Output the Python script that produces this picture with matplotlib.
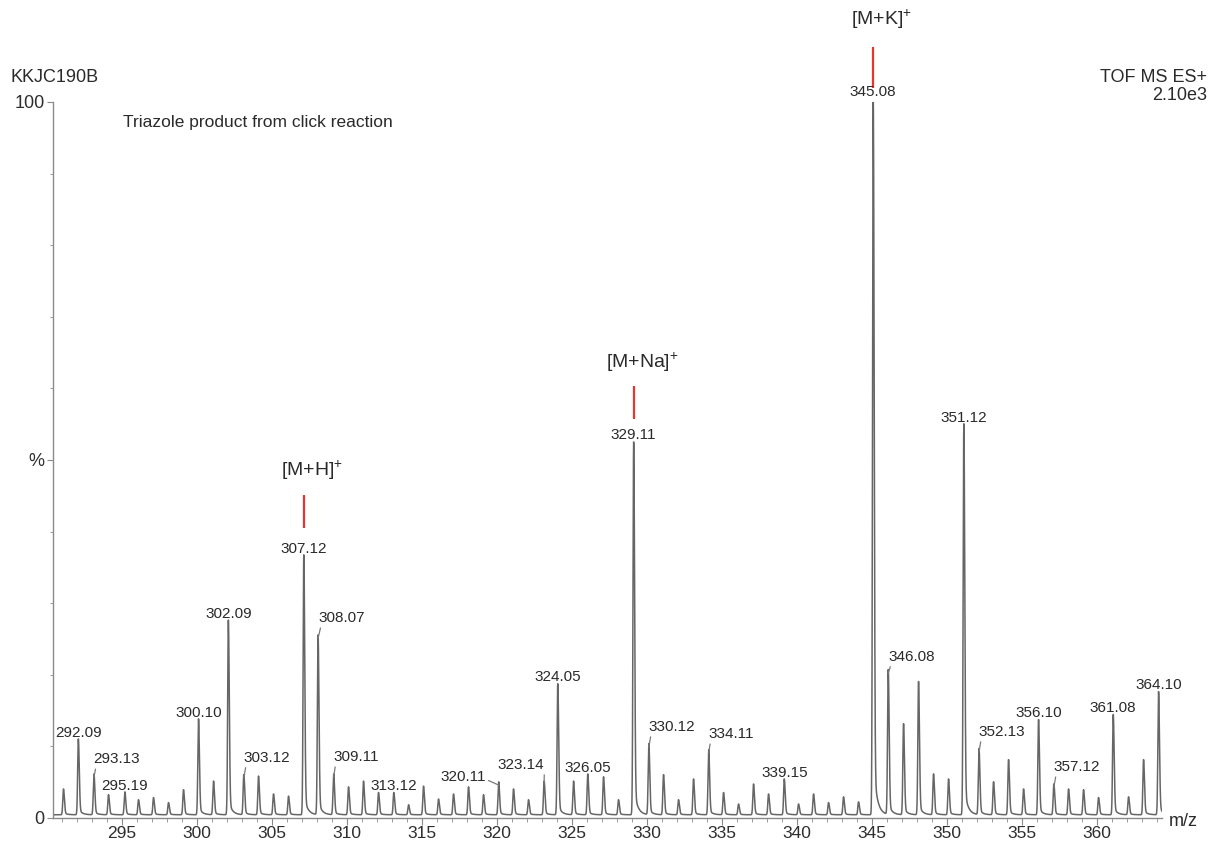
import numpy as np
import matplotlib
matplotlib.use("Agg")
import matplotlib.pyplot as plt

plt.rcParams['font.family'] = ['Liberation Sans', 'DejaVu Sans']
plt.rcParams['mathtext.fontset'] = 'custom'
plt.rcParams['mathtext.rm'] = 'Liberation Sans'
plt.rcParams['mathtext.default'] = 'regular'

# Centroid list of the spectrum: m/z and relative intensity (%)
peak_mz = [291.1, 292.09, 293.13, 294.1, 295.19, 296.1, 297.1, 298.1, 299.1, 300.10,
           301.1, 302.09, 303.12, 304.1, 305.1, 306.1, 307.12, 308.07, 309.11, 310.1,
           311.1, 312.1, 313.12, 314.1, 315.1, 316.1, 317.1, 318.1, 319.1, 320.11,
           321.1, 322.1, 323.14, 324.05, 325.1, 326.05, 327.1, 328.1, 329.11, 330.12,
           331.1, 332.1, 333.1, 334.11, 335.1, 336.1, 337.1, 338.1, 339.15, 340.1,
           341.1, 342.1, 343.1, 344.1, 345.08, 346.08, 347.1, 348.1, 349.1, 350.1,
           351.12, 352.13, 353.1, 354.1, 355.1, 356.10, 357.12, 358.1, 359.1, 360.1,
           361.08, 362.1, 363.1, 364.10]
peak_int = [3.6, 10.6, 5.7, 2.8, 3.2, 2.1, 2.4, 1.7, 3.5, 13.4,
            4.7, 27.2, 5.6, 5.4, 2.9, 2.6, 36.3, 25.1, 5.7, 3.9,
            4.7, 3.1, 3.1, 1.4, 4.0, 2.2, 2.9, 3.9, 2.8, 4.6,
            3.6, 2.1, 4.7, 18.3, 4.7, 5.7, 5.3, 2.1, 52.1, 9.9,
            5.6, 2.1, 5.0, 9.1, 3.1, 1.5, 4.3, 2.9, 5.0, 1.5,
            2.9, 1.7, 2.5, 1.8, 100.0, 20.2, 12.7, 18.6, 5.7, 5.0,
            54.6, 9.2, 4.6, 7.7, 3.6, 13.3, 4.3, 3.6, 3.5, 2.4,
            14.0, 2.5, 7.7, 17.2]

# Labelled peaks drawn directly above their apex
top_labels = ["292.09", "295.19", "300.10", "302.09", "307.12", "313.12", "324.05",
              "326.05", "329.11", "339.15", "345.08", "351.12", "356.10", "361.08",
              "364.10"]
# Labelled peaks with a leader line: (label, text x in m/z, text y in %)
leader_labels = [("293.13", 294.67, 8.2), ("303.12", 304.67, 8.4),
                 ("308.07", 309.67, 27.9), ("309.11", 310.60, 8.5),
                 ("320.11", 317.73, 5.7), ("323.14", 321.60, 7.4),
                 ("330.12", 331.67, 12.7), ("334.11", 335.60, 11.7),
                 ("346.08", 347.67, 22.5), ("352.13", 353.67, 12.0),
                 ("357.12", 358.67, 7.1)]

# Adduct ions highlighted in red: name, m/z, marker span (%), name height (%)
ion_names = [r"[M+H]$^{+}$", r"[M+Na]$^{+}$", r"[M+K]$^{+}$"]
ion_mz = [307.12, 329.11, 345.08]
ion_mark_lo = [40.5, 55.7, 102.0]
ion_mark_hi = [45.1, 60.3, 107.7]
ion_name_y = [48.6, 63.7, 111.5]

xmin, xmax = 290.4, 364.33

fig = plt.figure(figsize=(12.10, 8.43), dpi=100)
ax = fig.add_axes([53 / 1210, 25 / 843, (1162 - 53) / 1210, 716 / 843])

# Profile trace: each centroid rendered as a narrow peak with a short right tail
grid = np.arange(xmin, xmax, 0.004)
profile = np.full_like(grid, 0.45)
for m, h in zip(peak_mz, peak_int):
    d = grid - m
    sig = np.where(d < 0, 0.045, 0.06)
    core = np.exp(-0.5 * (d / sig) ** 2)
    tail = np.where(d > 0, (1 - np.exp(-(d / 0.09) ** 2)) * np.exp(-d / 0.22), 0.0)
    profile += h * (core + 0.08 * tail)
ax.plot(grid, profile, color='#666666', lw=1.1)

ax.set_xlim(xmin, xmax)
ax.set_ylim(0, 100)

for s in ('top', 'right'):
    ax.spines[s].set_visible(False)
for s in ('left', 'bottom'):
    ax.spines[s].set_color('#8a8a8a')
    ax.spines[s].set_linewidth(1.0)

ax.set_xticks(np.arange(295, 361, 5))
ax.set_xticks(np.arange(291, 365, 1), minor=True)
ax.set_yticks([0, 50, 100])
ax.set_yticklabels(['0', '%', '100'])
ax.set_yticks(np.arange(10, 100, 10), minor=True)
ax.tick_params(axis='x', which='major', direction='out', length=5, color='#8a8a8a',
               labelsize=12.5, labelcolor='#2e2e2e', pad=0.5)
ax.tick_params(axis='x', which='minor', direction='out', length=3, color='#8a8a8a')
ax.tick_params(axis='y', which='major', direction='out', length=4, color='#8a8a8a',
               labelsize=13, labelcolor='#2e2e2e', pad=2)
ax.tick_params(axis='y', which='minor', direction='out', length=2, color='#8a8a8a')

lookup = dict(zip(["%.2f" % m for m in peak_mz], peak_int))
lab_color = '#2a2a2a'

for lab in top_labels:
    m = float(lab)
    ax.annotate(lab, xy=(m, lookup[lab]), xytext=(0, 4), textcoords='offset points',
                ha='center', va='baseline', fontsize=11, color=lab_color,
                annotation_clip=False)

for lab, tx, ty in leader_labels:
    m = float(lab)
    rel = (0.05, 0.0) if tx > m else (1.0, 0.35)
    ax.annotate(lab, xy=(m, lookup[lab]), xytext=(tx, ty), textcoords='data',
                ha='center', va='center', fontsize=11, color=lab_color,
                arrowprops=dict(arrowstyle='-', color='#7a7a7a', lw=0.9,
                                shrinkA=0, shrinkB=0, relpos=rel),
                annotation_clip=False)

# Red markers and adduct names above the main ions
for name, m, lo, hi, ny in zip(ion_names, ion_mz, ion_mark_lo, ion_mark_hi, ion_name_y):
    ax.plot([m, m], [lo, hi], color='#e8352d', lw=1.6, clip_on=False,
            solid_capstyle='butt')
    ax.text(m + 0.55, ny, name, ha='center', va='center', fontsize=14,
            color='#2a2a2a', clip_on=False)

fig.text(10 / 1210, 1 - 77 / 843, "KKJC190B", ha='left', va='center',
         fontsize=13, color='#2a2a2a')
fig.text(123 / 1210, 1 - 122 / 843, "Triazole product from click reaction",
         ha='left', va='center', fontsize=12.5, color='#2a2a2a')
fig.text(1207 / 1210, 1 - 77 / 843, "TOF MS ES+", ha='right', va='center',
         fontsize=13, color='#2a2a2a')
fig.text(1207 / 1210, 1 - 95 / 843, "2.10e3", ha='right', va='center',
         fontsize=13, color='#2a2a2a')
fig.text(1183 / 1210, 1 - 822 / 843, "m/z", ha='center', va='center',
         fontsize=13, color='#2a2a2a')

fig.savefig("out.png", dpi=100, facecolor='white')
